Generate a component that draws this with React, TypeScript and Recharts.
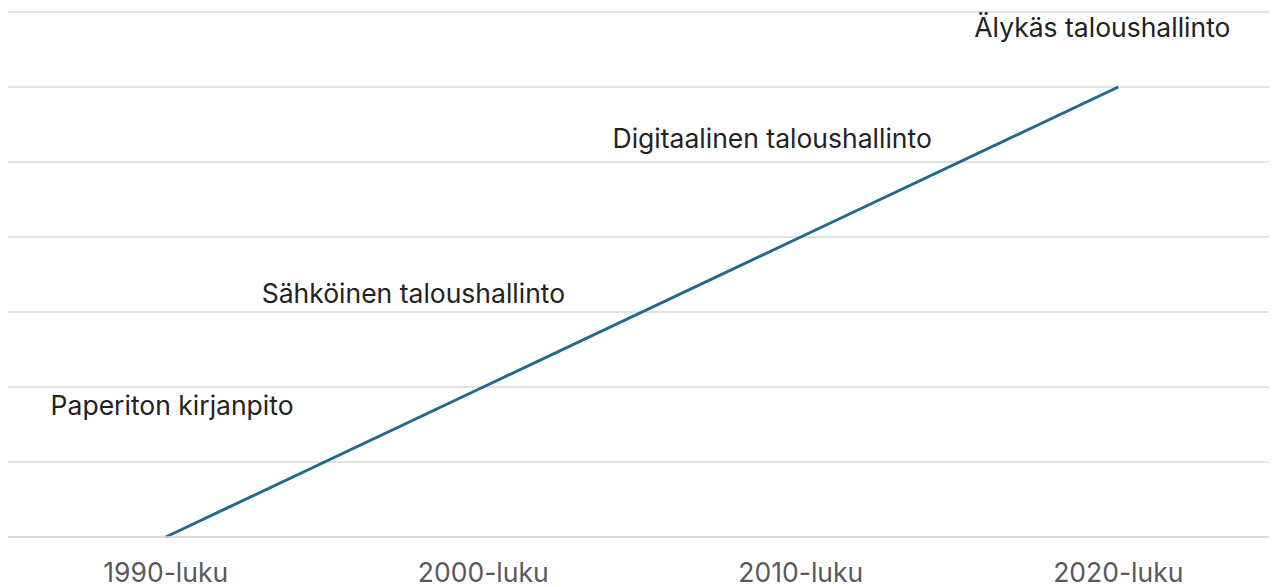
import { ComposedChart, Line, Scatter, XAxis, YAxis, CartesianGrid } from "recharts";

const decades = ["1990-luku", "2000-luku", "2010-luku", "2020-luku"];
const level = [0, 2, 4, 6];
const yTicks = [0, 1, 2, 3, 4, 5, 6, 7];

const stageNames = ["Paperiton kirjanpito", "Sähköinen taloushallinto", "Digitaalinen taloushallinto", "Älykäs taloushallinto"];
const stageX = [0.02, 0.78, 1.91, 2.95];
const stageY = [1.76, 3.25, 5.32, 6.8];

const lineData = decades.map((d, i) => ({ x: i, level: level[i] }));
const stageData = stageNames.map((name, i) => ({ x: stageX[i], y: stageY[i], name }));

const StageText = (props: any) => (
  <text
    x={props.cx}
    y={props.cy}
    textAnchor="middle"
    dominantBaseline="central"
    fontSize={26.5}
    fill="#222"
    fontFamily="Inter, 'Noto Sans', sans-serif"
  >
    {props.payload.name}
  </text>
);

export default function App() {
  return (
    <div style={{ margin: "-8px 0 0 -8px", width: 1277, height: 587 }}>
      <ComposedChart width={1277} height={587} margin={{ top: 12, right: 0, left: 7, bottom: 0 }}>
        <CartesianGrid stroke="#d9d9d9" strokeWidth={1.5} vertical={false} />
        <XAxis
          type="number"
          dataKey="x"
          domain={[-0.5, 3.5]}
          ticks={[0, 1, 2, 3]}
          tickFormatter={(v: number) => decades[v]}
          height={50}
          tickLine={false}
          axisLine={{ stroke: "#d9d9d9", strokeWidth: 1.5 }}
          tickMargin={20}
          tick={{ fontSize: 26.5, fill: "#595959", fontFamily: "Inter, 'Noto Sans', sans-serif" }}
          allowDataOverflow
        />
        <YAxis type="number" domain={[0, 7]} ticks={yTicks} hide />
        <Line
          data={lineData}
          dataKey="level"
          type="linear"
          stroke="#216a8d"
          strokeWidth={3}
          dot={false}
          activeDot={false}
          isAnimationActive={false}
        />
        <Scatter data={stageData} dataKey="y" shape={StageText} isAnimationActive={false} />
      </ComposedChart>
    </div>
  );
}
